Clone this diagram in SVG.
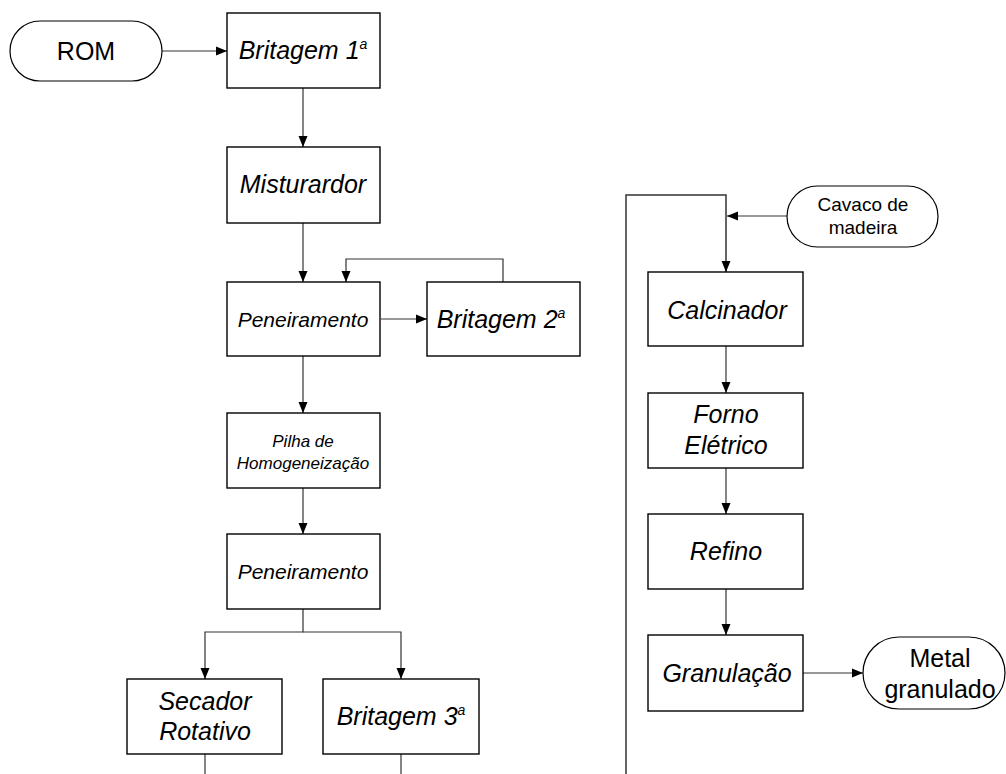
<svg xmlns="http://www.w3.org/2000/svg" width="1006" height="774" viewBox="0 0 1006 774">
<defs>
<marker id="arr" markerUnits="userSpaceOnUse" markerWidth="12" markerHeight="10" refX="11" refY="5" orient="auto">
<path d="M0,0.5 L11,5 L0,9.5 z" fill="#000"/>
</marker>
<style>
.box{fill:#fff;stroke:#000;stroke-width:1.4}
.term{fill:#fff;stroke:#000;stroke-width:1.2}
.c{fill:none;stroke:#333;stroke-width:1.2}
.ca{fill:none;stroke:#333;stroke-width:1.2;marker-end:url(#arr)}
.t{font-family:"Liberation Sans",Arial,sans-serif;font-style:italic;font-size:25px;fill:#000;text-anchor:middle}
.tn{font-family:"Liberation Sans",Arial,sans-serif;font-size:25px;fill:#000;text-anchor:middle}
.sup{font-size:14px}
</style>
</defs>
<rect width="1006" height="774" fill="#fff"/>
<g id="connectors">
<path class="ca" d="M162,51 H227"/>
<path class="ca" d="M303,88 V147"/>
<path class="ca" d="M303,223 V282"/>
<path class="ca" d="M381,319 H427"/>
<path class="ca" d="M503,282 V259 H346 V282"/>
<path class="ca" d="M303,356 V413"/>
<path class="ca" d="M303,488 V534"/>
<path class="ca" d="M303,609 V632 H205 V679"/>
<path class="ca" d="M303,632 H401 V679"/>
<path class="c" d="M205,754 V774"/>
<path class="c" d="M401,754 V774"/>
<path class="ca" d="M626,774 V195 H726 V272" style="stroke-width:1.5"/>
<path class="ca" d="M787,216 H727"/>
<path class="ca" d="M726,346 V393"/>
<path class="ca" d="M726,468 V514"/>
<path class="ca" d="M726,589 V635"/>
<path class="ca" d="M803,673 H863"/>
</g>
<g id="rom">
<rect class="term" x="10" y="21" width="152" height="60" rx="30"/>
<text class="tn" x="86" y="60">ROM</text>
</g>
<g id="britagem1">
<rect class="box" x="227" y="13" width="153" height="75"/>
<text class="t" x="303" y="59">Britagem 1<tspan class="sup" dy="-10">a</tspan></text>
</g>
<g id="misturardor">
<rect class="box" x="227" y="147" width="153" height="76"/>
<text class="t" x="303" y="193">Misturardor</text>
</g>
<g id="peneiramento1">
<rect class="box" x="227" y="282" width="153" height="74"/>
<text class="t" x="303" y="327" style="font-size:21px">Peneiramento</text>
</g>
<g id="britagem2">
<rect class="box" x="427" y="282" width="153" height="74"/>
<text class="t" x="501" y="328">Britagem 2<tspan class="sup" dy="-10">a</tspan></text>
</g>
<g id="pilha">
<rect class="box" x="227" y="413" width="153" height="75"/>
<text class="t" x="303" y="447" style="font-size:17px">Pilha de</text>
<text class="t" x="303" y="469" style="font-size:17px">Homogeneização</text>
</g>
<g id="peneiramento2">
<rect class="box" x="227" y="534" width="153" height="75"/>
<text class="t" x="303" y="579" style="font-size:21px">Peneiramento</text>
</g>
<g id="secador">
<rect class="box" x="127" y="679" width="155" height="75"/>
<text class="t" x="205" y="710">Secador</text>
<text class="t" x="205" y="740">Rotativo</text>
</g>
<g id="britagem3">
<rect class="box" x="323" y="679" width="156" height="75"/>
<text class="t" x="401" y="725">Britagem 3<tspan class="sup" dy="-10">a</tspan></text>
</g>
<g id="cavaco">
<rect class="term" x="787" y="186" width="151" height="61" rx="30.5"/>
<text class="tn" x="863" y="211" style="font-size:19px">Cavaco de</text>
<text class="tn" x="863" y="234" style="font-size:19px">madeira</text>
</g>
<g id="calcinador">
<rect class="box" x="648" y="272" width="155" height="74"/>
<text class="t" x="727" y="319">Calcinador</text>
</g>
<g id="forno">
<rect class="box" x="648" y="393" width="155" height="75"/>
<text class="t" x="726" y="423">Forno</text>
<text class="t" x="726" y="454">Elétrico</text>
</g>
<g id="refino">
<rect class="box" x="648" y="514" width="155" height="75"/>
<text class="t" x="726" y="560">Refino</text>
</g>
<g id="granulacao">
<rect class="box" x="648" y="635" width="155" height="76"/>
<text class="t" x="727" y="682">Granulação</text>
</g>
<g id="metal">
<rect class="term" x="863" y="637" width="142" height="72" rx="36"/>
<text class="tn" x="940" y="667">Metal</text>
<text class="tn" x="940" y="698">granulado</text>
</g>
</svg>
